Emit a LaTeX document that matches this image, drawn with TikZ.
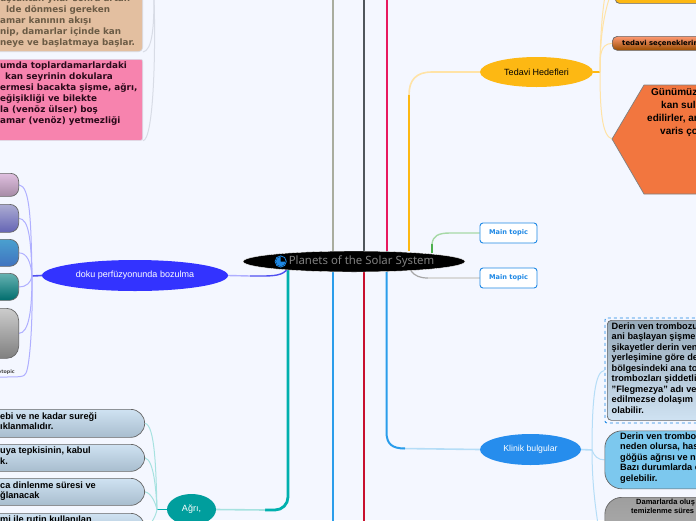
\documentclass[tikz,border=0pt]{standalone}
\usepackage{fontspec}
\usepackage{xcolor}
\usetikzlibrary{shapes.geometric, backgrounds}
\setmainfont{Liberation Sans}
\newfontfamily\widefont{DejaVu Sans}
\newfontfamily\hubfont{Noto Sans}
\definecolor{page-bg}{HTML}{F4F7FF}
\definecolor{sage-line}{HTML}{A9AD9F}
\definecolor{slate-line}{HTML}{50565C}
\definecolor{rose-line}{HTML}{E8195F}
\definecolor{amber-line}{HTML}{FDB813}
\definecolor{amber-soft}{HTML}{FFE3A6}
\definecolor{teal-line}{HTML}{00B0AE}
\definecolor{teal-soft}{HTML}{A6E2E0}
\definecolor{sky-line}{HTML}{2A9DEB}
\definecolor{sky-soft}{HTML}{B5DDF7}
\definecolor{crimson-line}{HTML}{C8102E}
\definecolor{violet-line}{HTML}{5050F0}
\definecolor{violet-soft}{HTML}{AFAFFF}
\definecolor{mist-line}{HTML}{D8DCE6}
\definecolor{topic-blue}{HTML}{1E88E5}
\definecolor{tan-fill}{HTML}{E3BFA0}
\definecolor{tan-text}{HTML}{6B5B45}
\definecolor{pink-fill}{HTML}{F783AE}
\definecolor{pink-text}{HTML}{2A0A1A}
\definecolor{hex-fill}{HTML}{F2763F}
\definecolor{pain-top}{HTML}{CFE2F2}
\definecolor{pain-bottom}{HTML}{A8BDCE}
\definecolor{derin-edge}{HTML}{7CC8EE}
\definecolor{derin-mid}{HTML}{4AA0CF}
\tikzset{
  trunk/.style={line width=2.8pt},
  twig/.style={line width=1pt},
  oval/.style={draw=none, ellipse, inner sep=0pt, font=\fontsize{9}{11}\selectfont},
  topicbox/.style={draw=topic-blue, fill=white, rounded corners=3pt, line width=0.9pt,
    minimum width=57pt, minimum height=20pt, inner sep=0pt, text=topic-blue,
    font=\widefont\bfseries\fontsize{6.6}{8}\selectfont},
  slab/.style={draw=black!60, line width=0.7pt, inner sep=0pt, anchor=north west},
  painbox/.style={slab, top color=pain-top, bottom color=pain-bottom, rounded corners=14pt,
    anchor=north east, minimum width=190pt},
  wide/.style={anchor=north west, align=left, inner sep=0pt,
    font=\widefont\bfseries\fontsize{8.8}{10.95}\selectfont},
  arial/.style={anchor=north west, align=left, inner sep=0pt,
    font=\bfseries\fontsize{9.2}{10.5}\selectfont},
}
\begin{document}
\begin{tikzpicture}[x=1pt, y=-1pt]
  \useasboundingbox (0,0) rectangle (696,520);
  % hub and the ovals
  \node[oval, draw=white, fill=black, minimum width=222pt, minimum height=21pt] (hub) at (354,261.5) {};
  \node[text=black!50, inner sep=0pt, font=\hubfont\fontsize{11.4}{13}\selectfont] (hubText) at (361.5,261.5) {Planets of the Solar System};
  \node[oval, fill=amber-line, minimum width=113pt, minimum height=30pt] (tedavi) at (536.5,72) {Tedavi Hedefleri};
  \node[oval, fill=sky-line!90!blue, text=white, font=\fontsize{8.7}{11}\selectfont, minimum width=101pt, minimum height=31pt] (klinik) at (530.5,449.5) {Klinik bulgular};
  \node[topicbox] (mainA) at (508.5,233) {Main topic};
  \node[topicbox] (mainB) at (508.5,278) {Main topic};
  \node[oval, fill=blue!80!white, text=white, minimum width=186pt, minimum height=31pt] (doku) at (135,275.5) {doku perfüzyonunda bozulma};
  \node[oval, fill=teal-line!90!black, text=white, minimum width=49pt, minimum height=31pt] (agri) at (191.5,509.5) {Ağrı,};
  % icon of the hub
  \draw[topic-blue, line width=0.8pt] (280.7,261.5) circle (5.6);
  \fill[topic-blue] (280.7,261.5) -- (285.5,261.5) arc[start angle=0, end angle=270, radius=4.8] -- cycle;
  % right side, upper boxes
  \node[slab, fill=amber-line, rounded corners=4pt, minimum width=100pt, minimum height=14pt] (topBox) at (615,-11) {};
  \node[slab, top color=orange!55!red!55!white, bottom color=orange!60!black, rounded corners=5pt, minimum width=100pt, minimum height=14pt] (secenek) at (612,36) {};
  \node[inner sep=0pt, anchor=west, font=\widefont\bfseries\fontsize{6.9}{8}\selectfont] (secenekT) at (622,43.3) {tedavi seçeneklerin};
  \coordinate (hexL) at (612,139);
  \filldraw[fill=hex-fill, draw=black!50, line width=0.7pt] (hexL) -- (644,85) -- (720,85) -- (720,194) -- (644,194) -- cycle;
  \node[arial, font=\bfseries\fontsize{10}{13}\selectfont] (hexT) at (647,88) {\hspace*{4pt}Günümüz\\\hspace*{14pt}kan sul\\edilirler, an\\\hspace*{13pt}varis ço};
  % right side, lower boxes
  \node[draw=topic-blue, dashed, line width=0.9pt, rounded corners=2pt, inner sep=0pt, anchor=north west, minimum width=110pt, minimum height=105pt] (dashA) at (604.5,317.5) {};
  \node[slab, top color=black!10!pain-bottom, bottom color=pain-top, rounded corners=4pt, minimum width=110pt, minimum height=100pt] (derinA) at (607,320) {};
  \node[arial] (derinAT) at (611.5,322.5) {Derin ven trombozu\\ani başlayan şişme,\\şikayetler derin ven\\yerleşimine göre de\\bölgesindeki ana to\\trombozları şiddetli\\"Flegmezya" adı ver\\edilmezse dolaşım b\\olabilir.};
  \node[slab, top color=derin-edge, middle color=derin-mid, bottom color=derin-edge, rounded corners=17pt, minimum width=130pt, minimum height=58pt] (derinB) at (604.5,430.5) {};
  \node[arial] (derinBT) at (620,432.5) {Derin ven tromboz\\neden olursa, has\\göğüs ağrısı ve ne\\Bazı durumlarda ö\\gelebilir.};
  \node[slab, top color=black!38, bottom color=black!30, rounded corners=17pt, minimum width=130pt, minimum height=60pt] (damar) at (604.5,497) {};
  \node[arial, font=\bfseries\fontsize{7.5}{9}\selectfont] (damarT) at (636,499) {Damarlarda oluş};
  \node[arial, font=\bfseries\fontsize{7.5}{9}\selectfont] (temizT) at (631,508) {temizlenme süres};
  % left side, upper boxes
  \node[slab, draw=mist-line, fill=tan-fill, rounded corners=4pt, anchor=south east, minimum width=180pt, minimum height=80pt] (tan) at (143,52) {};
  \node[wide, text=tan-text] (tanT) at (0,-5) {uştuktan yılar sonra artan\\\hspace*{6pt}lde dönmesi gereken\\amar kanının akışı\\nip, damarlar içinde kan\\neye ve başlatmaya başlar.};
  \node[slab, draw=mist-line, fill=pink-fill, rounded corners=2pt, minimum width=160pt, minimum height=81pt, anchor=north east] (pink) at (143,59) {};
  \node[wide, text=pink-text] (pinkT) at (0,61.5) {umda toplardamarlardaki\\\hspace*{5pt}kan seyrinin dokulara\\ermesi bacakta şişme, ağrı,\\eğişikliği ve bilekte\\la (venöz ülser) boş\\amar (venöz) yetmezliği};
  % left side, small boxes of the violet oval
  \node[slab, top color=violet!25!white, bottom color=violet!30!gray!70!white, rounded corners=8pt, anchor=north east, minimum width=40pt, minimum height=23pt] (subA) at (19,173) {};
  \node[slab, top color=blue!30!gray!50!white, bottom color=blue!35!gray!90!white, rounded corners=9pt, anchor=north east, minimum width=40pt, minimum height=28pt] (subB) at (19,204) {};
  \node[slab, top color=derin-mid, bottom color=cyan!40!blue!50!gray, rounded corners=9pt, anchor=north east, minimum width=40pt, minimum height=27pt] (subC) at (19,239) {};
  \node[slab, top color=teal!60!white, bottom color=teal!85!black, rounded corners=9pt, anchor=north east, minimum width=40pt, minimum height=27pt] (subD) at (19,273) {};
  \node[slab, top color=black!20, bottom color=black!50, rounded corners=12pt, anchor=north east, minimum width=40pt, minimum height=50pt] (subE) at (19,308) {};
  \node[inner sep=0pt, anchor=east, text=black!70, font=\widefont\bfseries\fontsize{4.8}{6}\selectfont] (subF) at (15,372) {otopic};
  \coordinate (subFEnd) at (0,377);
  % left side, boxes of the teal oval
  \node[painbox, minimum height=28pt] (painA) at (145,409) {};
  \node[painbox, minimum height=27pt] (painB) at (145,444) {};
  \node[painbox, minimum height=27pt] (painC) at (145,478) {};
  \node[painbox, minimum height=27pt] (painD) at (145,513) {};
  \node[arial] (painAT) at (0,412.5) {ebi ve ne kadar sureği\\ıklanmalıdır.};
  \node[arial] (painBT) at (0,447) {uya tepkisinin, kabul\\k.};
  \node[arial] (painCT) at (0,481.5) {ca dinlenme süresi ve\\ğlanacak};
  \node[arial] (painDT) at (0,516) {mi ile rutin kullanılan};
  % free ends
  \coordinate (sageEnd) at (333,-4);
  \coordinate (slateEnd) at (364,-4);
  \coordinate (roseEnd) at (387,-4);
  \coordinate (skyEnd) at (333,524);
  \coordinate (crimsonEnd) at (364,524);
  \coordinate (tanEnd) at (154,-4);
  \coordinate (kneeA) at (600,72);
  \coordinate (kneeK) at (592,450);
  \coordinate (kneeD) at (32,276);
  \coordinate (kneeP) at (157,509.5);
  \begin{scope}[on background layer]
    \fill[page-bg] (0,0) rectangle (696,520);
    % straight trunks
    \draw[trunk, sage-line] (hub.north -| sageEnd) -- (sageEnd);
    \draw[trunk, slate-line] (hub.north -| slateEnd) -- (slateEnd);
    \draw[trunk, rose-line] (hub.north -| roseEnd) -- (roseEnd);
    \draw[trunk, sky-line] (hub.south -| skyEnd) -- (skyEnd);
    \draw[trunk, crimson-line] (hub.south -| crimsonEnd) -- (crimsonEnd);
    % bent trunks
    \draw[twig, line width=1.6pt, amber-soft] (409,95) .. controls (409,80) and (416,72) .. (432,72) -- (tedavi.west);
    \draw[trunk, amber-line] (409,251) -- (409,95);
    \draw[trunk, teal-line, rounded corners=13pt] (288,270) -- (288,510) -- (265,510);
    \draw[twig, line width=1.6pt, teal-soft] (265,510) -- (agri.east);
    \draw[twig, line width=1.6pt, sky-soft] (402,448.5) -- (klinik.west);
    \draw[trunk, sky-line, line width=2pt] (386.5,272) -- (386.5,432) .. controls (386.5,444) and (392,448.5) .. (405,448.5);
    \draw[twig, line width=1.4pt, violet-soft] (250,276) -- (doku.east);
    \draw[twig, line width=1.4pt, violet-line] (287,270) .. controls (282,275) and (275,276) .. (262,276) -- (250,276);
    \draw[twig, line width=1.8pt, green!55!black!70!white] (432,253) -- (432,244);
    \draw[twig, line width=1.4pt, green!40!gray!50!white] (432,244) .. controls (433,236) and (438,233) .. (450,233) -- (mainA.west);
    \draw[twig, line width=1.2pt, black!35] (411,271) .. controls (415,276) and (420,278) .. (428,278);
    \draw[twig, line width=1.2pt, black!15] (428,278) -- (mainB.west);
    % amber branches
    \draw[twig, line width=1.6pt, amber-line] (tedavi.east) -- (kneeA);
    \draw[twig, amber-soft] (kneeA) .. controls (600,50) and (601,20) .. (605,-4);
    \draw[twig, amber-soft] (kneeA) .. controls (600,45) and (602,20) .. (610,-4);
    \draw[twig, amber-soft] (kneeA) .. controls (600,55) and (600,44) .. (secenek.west);
    \draw[twig, amber-soft] (kneeA) .. controls (600,110) and (602,136) .. (hexL);
    % sky branches
    \draw[twig, line width=1.6pt, sky-soft] (klinik.east) -- (kneeK);
    \draw[twig, sky-soft] (kneeK) .. controls (592,400) and (595,371) .. (dashA.west);
    \draw[twig, sky-soft] (kneeK) .. controls (594,456) and (598,460) .. (derinB.west);
    \draw[twig, sky-soft] (kneeK) .. controls (592,480) and (595,505) .. (598,524);
    % violet branches
    \draw[twig, line width=1.6pt, violet-line] (doku.west) -- (kneeD);
    \draw[twig, violet-soft] (kneeD) .. controls (31,220) and (30,186) .. (subA.east);
    \draw[twig, violet-soft] (kneeD) .. controls (31,240) and (29,219) .. (subB.east);
    \draw[twig, violet-soft] (kneeD) .. controls (31,262) and (27,253) .. (subC.east);
    \draw[twig, violet-soft] (kneeD) .. controls (31,282) and (27,287) .. (subD.east);
    \draw[twig, violet-soft] (kneeD) .. controls (32,310) and (29,333) .. (subE.east);
    \draw[twig, violet-soft] (kneeD) .. controls (33,320) and (30,365) .. (26,373) .. controls (24,377) and (22,377) .. (subFEnd);
    % teal branches
    \draw[twig, line width=1.6pt, teal-line] (agri.west) -- (kneeP);
    \draw[twig, teal-soft] (kneeP) .. controls (156,470) and (155,425) .. (painA.east);
    \draw[twig, teal-soft] (kneeP) .. controls (156,490) and (154,460) .. (painB.east);
    \draw[twig, teal-soft] (kneeP) .. controls (156,505) and (152,493) .. (painC.east);
    \draw[twig, teal-soft] (kneeP) .. controls (156,515) and (152,525) .. (painD.east);
    % mist branches
    \draw[twig, mist-line] (tanEnd) .. controls (154,30) and (152,50) .. (tan.south east);
    \draw[twig, mist-line] (tanEnd) .. controls (156,60) and (153,140) .. (pink.south east);
  \end{scope}
\end{tikzpicture}
\end{document}
